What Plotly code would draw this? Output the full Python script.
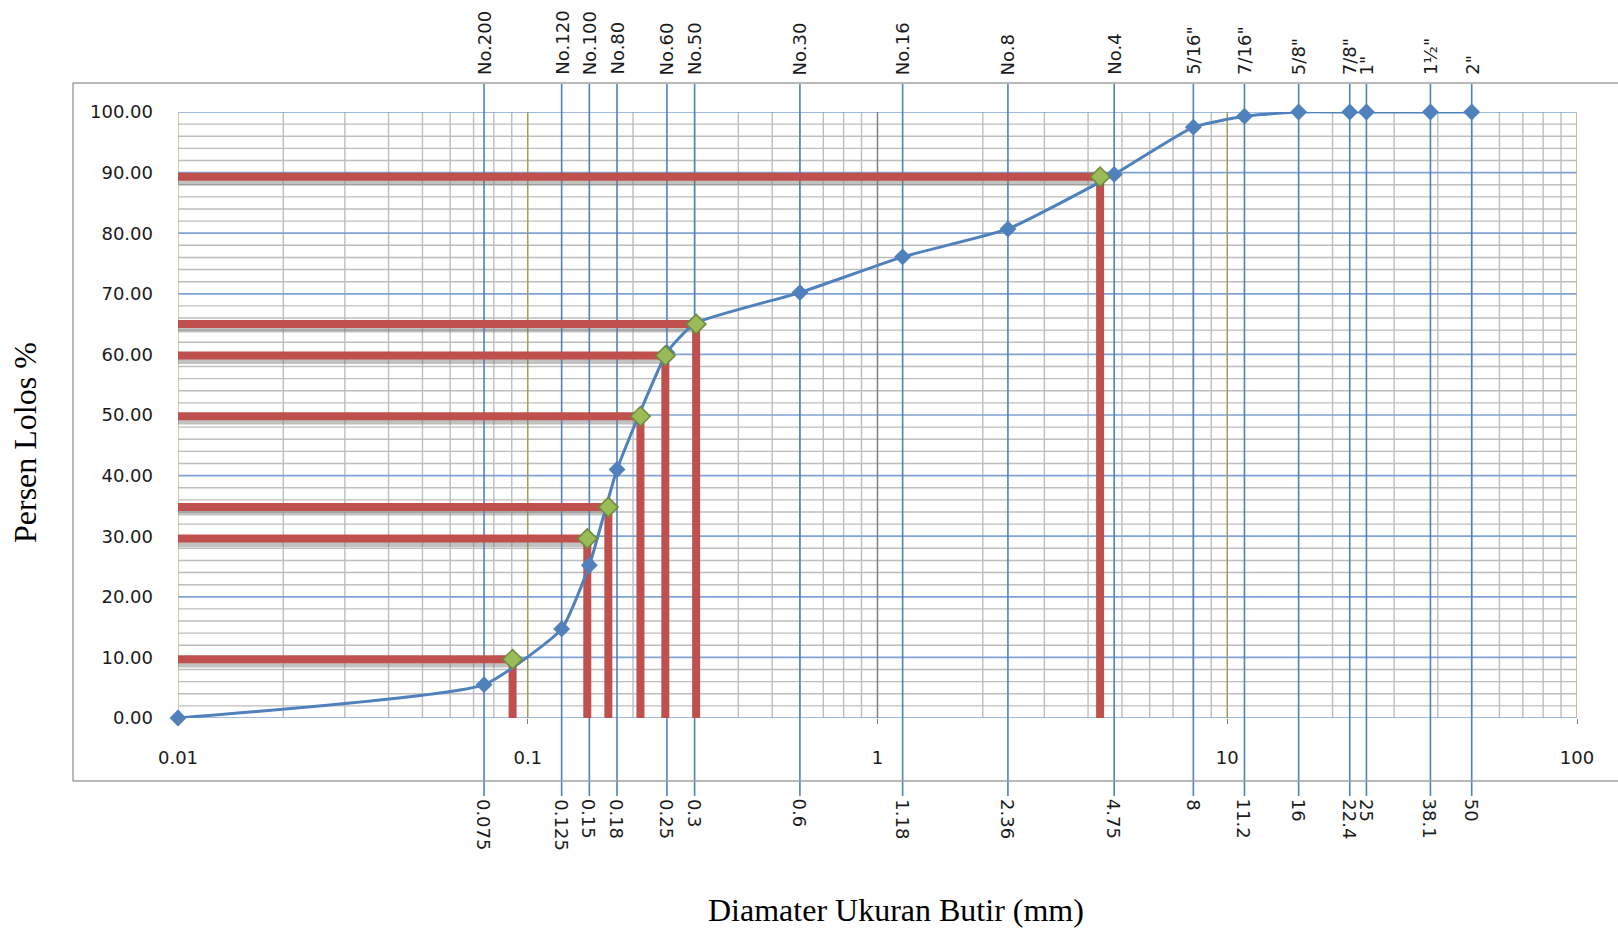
import numpy as np
import plotly.graph_objects as go

# ---------------- data ----------------
sieve_names = ["No.200", "No.120", "No.100", "No.80", "No.60", "No.50", "No.30", "No.16",
               "No.8", "No.4", "5/16\"", "7/16\"", "5/8\"", "7/8\"", "1\"", "1½\"", "2\""]
sieve_sizes = [0.075, 0.125, 0.15, 0.18, 0.25, 0.3, 0.6, 1.18,
               2.36, 4.75, 8, 11.2, 16, 22.4, 25, 38.1, 50]
size_labels = ["0.075", "0.125", "0.15", "0.18", "0.25", "0.3", "0.6", "1.18",
               "2.36", "4.75", "8", "11.2", "16", "22.4", "25", "38.1", "50"]

grad_x = [0.01, 0.075, 0.125, 0.15, 0.18, 0.25, 0.3, 0.6, 1.18, 2.36, 4.75, 8, 11.2, 16, 22.4, 25, 38.1, 50]
grad_y = [0.0, 5.5, 14.7, 25.2, 41.0, 60.3, 65.1, 70.2, 76.1, 80.7, 89.7, 97.5, 99.3, 100, 100, 100, 100, 100]

d_x = [0.0905, 0.148, 0.170, 0.210, 0.2474, 0.303, 4.33]
d_y = [9.7, 29.6, 34.8, 49.8, 59.8, 65, 89.3]

x_tick_vals = [0.01, 0.1, 1, 10, 100]
x_tick_text = ["0.01", "0.1", "1", "10", "100"]

# ---------------- layout helpers ----------------
W, H = 1618, 933
L, R, T, B = 178, 41, 112, 215
PW, PH = W - L - R, H - T - B


def py2paper(py):
    return (H - B - py) / PH


def px2paper(px):
    return (px - L) / PW


BLUE = "#4F81BD"
GRID_GRAY = "#BDBDBD"
MAJOR_BLUE = "#7FA3D2"
RED = "#C0504D"
TXT = "#1a1a1a"
TICKFONT = dict(family="DejaVu Sans", size=18, color=TXT)

fig = go.Figure()
shapes = []

# minor vertical gridlines (2..9 in each decade)
for dec in [0.01, 0.1, 1, 10]:
    for m in range(2, 10):
        v = dec * m
        shapes.append(dict(type="line", xref="x", yref="paper", x0=v, x1=v, y0=0, y1=1,
                           line=dict(color=GRID_GRAY, width=1.4), layer="below"))
# minor horizontal gridlines every 2
for v in range(2, 100, 2):
    if v % 10:
        shapes.append(dict(type="line", xref="paper", yref="y", x0=0, x1=1, y0=v, y1=v,
                           line=dict(color=GRID_GRAY, width=1.4), layer="below"))
# major horizontal gridlines
for v in range(0, 101, 10):
    shapes.append(dict(type="line", xref="paper", yref="y", x0=0, x1=1, y0=v, y1=v,
                       line=dict(color=MAJOR_BLUE, width=1.7), layer="below"))
# decade lines
dec_colors = {0.01: "#C4B98A", 0.1: "#A59A5E", 1: "#808080", 10: "#A59A5E", 100: "#B7AD7A"}
for v, c in dec_colors.items():
    shapes.append(dict(type="line", xref="x", yref="paper", x0=v, x1=v, y0=0, y1=1,
                       line=dict(color=c, width=1.5), layer="below"))
# sieve lines extending outside the plot
for s in sieve_sizes:
    shapes.append(dict(type="line", xref="x", yref="paper", x0=s, x1=s,
                       y0=py2paper(796), y1=py2paper(84),
                       line=dict(color=BLUE, width=1.6), layer="below"))
# outer chart border
bx0, bx1 = px2paper(73), px2paper(1640)
by0, by1 = py2paper(781), py2paper(83)
for (x0, y0, x1, y1) in [(bx0, by1, bx1, by1), (bx0, by0, bx1, by0), (bx0, by0, bx0, by1)]:
    shapes.append(dict(type="line", xref="paper", yref="paper", x0=x0, y0=y0, x1=x1, y1=y1,
                       line=dict(color="#A0A0A0", width=1.5), layer="below"))

# red guide lines (with subtle shadow)
hx, hy, vx, vy, sx, sy = [], [], [], [], [], []
for gx, gy in zip(d_x, d_y):
    hx += [0.01, gx, None]
    hy += [gy, gy, None]
    vx += [gx, gx, None]
    vy += [gy, 0, None]
    sx += [0.01, gx, None]
    sy += [gy - 0.8, gy - 0.8, None]

fig.add_trace(go.Scatter(x=sx, y=sy, mode="lines", line=dict(color="rgba(120,120,120,0.45)", width=7),
                         hoverinfo="skip", showlegend=False))
fig.add_trace(go.Scatter(x=hx + vx, y=hy + vy, mode="lines", line=dict(color=RED, width=8),
                         hoverinfo="skip", showlegend=False))
# gradation curve
fig.add_trace(go.Scatter(x=grad_x, y=grad_y, mode="lines+markers",
                         line=dict(color=BLUE, width=3, shape="spline", smoothing=0.45),
                         marker=dict(symbol="diamond", size=13, color=BLUE),
                         showlegend=False, cliponaxis=False))
# D-values
fig.add_trace(go.Scatter(x=d_x, y=d_y, mode="markers",
                         marker=dict(symbol="diamond", size=15, color="#9BBB59",
                                     line=dict(color="#6E8B3D", width=1.5)),
                         showlegend=False, cliponaxis=False))

annotations = []
for name, s in zip(sieve_names, sieve_sizes):
    annotations.append(dict(x=np.log10(s), y=py2paper(77), xref="x", yref="paper",
                            text=name, textangle=-90, showarrow=False,
                            xanchor="center", yanchor="bottom", font=TICKFONT))
for lab, s in zip(size_labels, sieve_sizes):
    annotations.append(dict(x=np.log10(s), y=py2paper(797), xref="x", yref="paper",
                            text=lab, textangle=90, showarrow=False,
                            xanchor="center", yanchor="top", font=TICKFONT))
annotations.append(dict(x=px2paper(25), y=py2paper(443), xref="paper", yref="paper",
                        text="Persen Lolos %", textangle=-90, showarrow=False,
                        xanchor="center", yanchor="middle",
                        font=dict(family="Liberation Serif", size=32, color="black")))
annotations.append(dict(x=px2paper(896), y=py2paper(910), xref="paper", yref="paper",
                        text="Diamater Ukuran Butir (mm)", showarrow=False,
                        xanchor="center", yanchor="middle",
                        font=dict(family="Liberation Serif", size=32, color="black")))

fig.update_layout(
    width=W, height=H,
    margin=dict(l=L, r=R, t=T, b=B, pad=0, autoexpand=False),
    paper_bgcolor="white", plot_bgcolor="white",
    shapes=shapes, annotations=annotations,
    xaxis=dict(type="log", range=[-2, 2], showgrid=False, zeroline=False, automargin=False,
               tickvals=x_tick_vals, ticktext=x_tick_text, tickfont=TICKFONT,
               ticks="outside", ticklen=5, tickcolor="#808080", ticklabelstandoff=18,
               showline=False),
    yaxis=dict(range=[0, 100], showgrid=False, zeroline=False, automargin=False,
               tickmode="linear", tick0=0, dtick=10, tickformat=".2f", tickfont=TICKFONT,
               ticks="", ticklabelstandoff=24, showline=False),
)

fig.write_html("out.html", config={"displayModeBar": False},
               post_script="document.body.style.margin='0';document.body.style.overflow='hidden';")
